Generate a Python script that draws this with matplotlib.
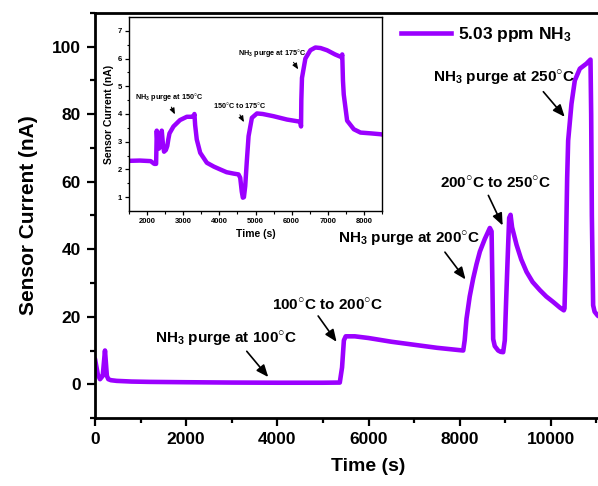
import matplotlib
matplotlib.use("Agg")
import matplotlib.pyplot as plt
from matplotlib.lines import Line2D

plt.rcParams['font.family'] = ['Liberation Sans', 'DejaVu Sans']
plt.rcParams['font.weight'] = 'bold'
plt.rcParams['mathtext.fontset'] = 'custom'
plt.rcParams['mathtext.rm'] = 'Liberation Sans:bold'
plt.rcParams['mathtext.bf'] = 'Liberation Sans:bold'
plt.rcParams['mathtext.it'] = 'Liberation Sans:bold'
plt.rcParams['mathtext.default'] = 'bf'

# ---------------- data ----------------
main_time = [0, 60, 110, 170, 219, 260, 292, 350, 475, 800, 1200, 2000, 3000, 4000, 5000,
             5370, 5420, 5460, 5500, 5700, 6000, 6500, 7000, 7500, 8000, 8078, 8110, 8150,
             8220, 8296, 8370, 8443, 8550, 8662, 8700, 8718, 8735, 8770, 8844, 8900, 8954,
             8990, 9020, 9050, 9086, 9116, 9150, 9248, 9350, 9467, 9600, 9759, 9900, 10050,
             10200, 10285, 10300, 10325, 10358, 10380, 10453, 10526, 10636, 10782, 10870,
             10885, 10900, 10928, 10960, 11030, 11100]
main_current = [7.5, 3.0, 1.5, 2.5, 10.0, 2.5, 1.5, 1.2, 1.0, 0.8, 0.7, 0.6, 0.5, 0.45, 0.45,
                0.5, 5.0, 13.0, 14.2, 14.2, 13.7, 12.6, 11.7, 10.8, 10.1, 10.0, 13.0, 19.4,
                26.0, 31.3, 35.6, 39.3, 43.0, 46.3, 45.3, 30.0, 13.4, 11.3, 10.0, 9.6, 9.5,
                13.0, 25.0, 36.3, 49.3, 50.2, 46.5, 41.3, 37.0, 33.3, 30.3, 27.9, 26.0, 24.4,
                22.7, 21.9, 22.5, 35.0, 61.0, 72.2, 83.1, 90.0, 93.5, 95.0, 96.2,
                80.0, 50.0, 23.4, 21.5, 20.3, 19.8]

inset_time = [1500, 1800, 2100, 2200, 2250, 2268, 2290, 2330, 2370, 2406, 2440, 2470, 2520,
              2560, 2590, 2620, 2730, 2910, 3100, 3250, 3300, 3310, 3330, 3375, 3470, 3654,
              3850, 4023, 4200, 4392, 4530, 4577, 4620, 4650, 4680, 4716, 4760, 4808, 4900,
              5040, 5200, 5500, 5870, 6240, 6260, 6268, 6286, 6380, 6518, 6657, 6800, 6980,
              7200, 7380, 7400, 7420, 7442, 7535, 7720, 7905, 8200, 8458, 8500]
inset_current = [2.31, 2.32, 2.3, 2.2, 2.2, 3.4, 2.9, 2.75, 2.9, 3.4, 2.9, 2.64, 2.7,
                 2.85, 3.1, 3.3, 3.55, 3.78, 3.9, 3.9, 3.95, 4.0, 3.6, 3.08, 2.6, 2.24,
                 2.1, 2.0, 1.9, 1.85, 1.82, 1.7, 1.2, 0.98, 1.0, 1.4, 2.3, 3.2, 3.86,
                 4.02, 4.0, 3.92, 3.8, 3.72, 3.55, 4.5, 5.3, 6.0, 6.3, 6.4, 6.38, 6.3,
                 6.15, 6.05, 6.15, 5.2, 4.7, 3.76, 3.45, 3.33, 3.3, 3.27, 3.26]

series_label = '5.03 ppm NH$_3$'
main_xticks = [0, 2000, 4000, 6000, 8000, 10000]
main_yticks = [0, 20, 40, 60, 80, 100]
inset_xticks = [2000, 3000, 4000, 5000, 6000, 7000, 8000]
inset_yticks = [1, 2, 3, 4, 5, 6, 7]

DEG = '$^{\\bigcirc}$'
main_notes = [
    ('NH$_3$ purge at 100' + DEG + 'C', (2870, 13.4), (3290, 10.4), (3840, 1.5)),
    ('100' + DEG + 'C to 200' + DEG + 'C', (5110, 23.4), (4860, 20.9), (5335, 11.9)),
    ('NH$_3$ purge at 200' + DEG + 'C', (6890, 43.0), (7640, 39.8), (8165, 30.4)),
    ('200' + DEG + 'C to 250' + DEG + 'C', (8794, 59.7), (8603, 56.7), (8969, 46.3)),
    ('NH$_3$ purge at 250' + DEG + 'C', (8970, 90.7), (9796, 87.3), (10344, 78.6)),
]
inset_notes = [
    ('NH$_3$ purge at 150' + DEG + 'C', (2609, 4.56), (2637, 4.34), (2803, 3.9)),
    ('150' + DEG + 'C to 175' + DEG + 'C', (4577, 4.28), (4531, 4.06), (4716, 3.62)),
    ('NH$_3$ purge at 175' + DEG + 'C', (5456, 6.17), (6010, 5.95), (6221, 5.53)),
]

color = '#9B00FF'

# ---------------- figure ----------------
W, H = 598, 486
fig = plt.figure(figsize=(W / 100, H / 100), dpi=100)
ax = fig.add_axes([95 / W, (H - 418) / H, 547 / W, 405 / H])
ax.plot(main_time, main_current, color=color, lw=3.3, solid_joinstyle='round',
        solid_capstyle='round')
ax.set_xlim(0, 12000)
ax.set_ylim(-10, 110)
ax.set_xticks(main_xticks)
ax.set_yticks(main_yticks)
ax.set_xticks(range(1000, 12000, 2000), minor=True)
ax.set_yticks(range(-10, 111, 20), minor=True)
ax.tick_params(which='major', direction='out', length=6, width=1.6, labelsize=12.5, pad=4)
ax.tick_params(which='minor', direction='out', length=3.5, width=1.6)
for s in ax.spines.values():
    s.set_linewidth(2.0)
ax.spines['right'].set_visible(False)
for lab in ax.get_xticklabels() + ax.get_yticklabels():
    lab.set_fontweight('bold')
ax.set_xlabel('Time (s)', fontsize=14, fontweight='bold', labelpad=8)
ax.set_ylabel('Sensor Current (nA)', fontsize=15, fontweight='bold', labelpad=10)

for txt, tpos, a0, a1 in main_notes:
    ax.text(tpos[0], tpos[1], txt, fontsize=11, fontweight='bold', ha='center', va='center')
    ax.annotate('', xy=a1, xytext=a0,
                arrowprops=dict(arrowstyle='-|>,head_length=0.6,head_width=0.25',
                                color='black', lw=1.2, mutation_scale=12))

handle = Line2D([], [], color=color, lw=3.3)
fig.legend([handle], [series_label], loc='center left',
           bbox_to_anchor=(401 / W, 1 - 35 / H), frameon=False,
           handlelength=2.9, handletextpad=0.4, borderpad=0, borderaxespad=0,
           prop={'weight': 'bold', 'size': 12.5})

# ---------------- inset ----------------
ia = fig.add_axes([129 / W, (H - 211) / H, 253 / W, 194 / H])
ia.plot(inset_time, inset_current, color=color, lw=3.2, solid_joinstyle='round')
ia.set_xlim(1500, 8500)
ia.set_ylim(0.5, 7.5)
ia.set_xticks(inset_xticks)
ia.set_yticks(inset_yticks)
ia.set_xticks(range(1500, 8501, 1000), minor=True)
ia.set_yticks([1.5, 2.5, 3.5, 4.5, 5.5, 6.5], minor=True)
ia.tick_params(which='major', direction='out', length=3, width=0.9, labelsize=5.5, pad=2)
ia.tick_params(which='minor', direction='out', length=1.8, width=0.8)
for s in ia.spines.values():
    s.set_linewidth(1.0)
for lab in ia.get_xticklabels() + ia.get_yticklabels():
    lab.set_fontweight('bold')
ia.set_xlabel('Time (s)', fontsize=7.5, fontweight='bold', labelpad=3)
ia.set_ylabel('Sensor Current (nA)', fontsize=7.5, fontweight='bold', labelpad=3)
for txt, tpos, a0, a1 in inset_notes:
    ia.text(tpos[0], tpos[1], txt, fontsize=5.2, fontweight='bold', ha='center', va='center')
    ia.annotate('', xy=a1, xytext=a0,
                arrowprops=dict(arrowstyle='-|>,head_length=0.6,head_width=0.25',
                                color='black', lw=0.7, mutation_scale=6))

fig.savefig('out.png', dpi=100)
